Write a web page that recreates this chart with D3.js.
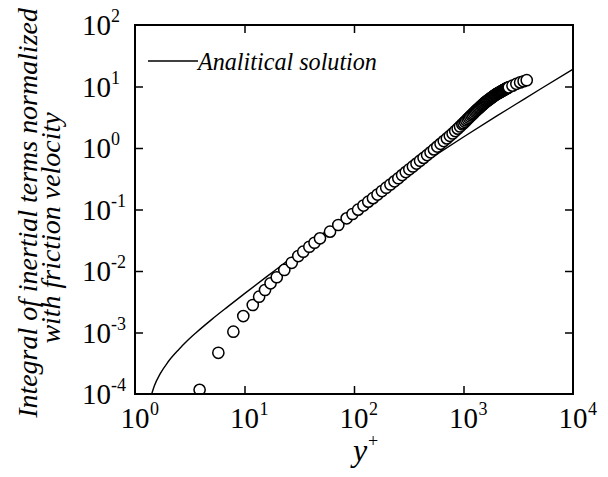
<!DOCTYPE html>
<html lang="en">
<head>
<meta charset="utf-8">
<script src="https://cdn.jsdelivr.net/npm/d3@7"></script>
<style>
    body { margin: 0; background: #fff; }
    svg text { font-family: "Liberation Serif", "DejaVu Serif", serif; fill: #000; }
</style>
</head>
<body>
<script>
    // analytical solution
    const lineX = [1.42, 1.5, 1.7, 2, 2.5, 3, 3.63, 5, 7, 10, 20, 50, 100, 200, 300, 500, 1000, 2000, 3000, 5000, 10000];
    const lineY = [1.0e-4, 1.35e-4, 2.14e-4, 3.31e-4, 5.25e-4, 7.33e-4, 1.0e-3, 1.62e-3, 2.61e-3, 4.28e-3, 1.10e-2,
        3.84e-2, 0.0964, 0.2275, 0.371, 0.678, 1.51, 3.29, 5.14, 9.02, 19.05];

    // circles (data)
    const dataX = [3.89, 5.77, 7.91, 9.75, 11.9, 13.6, 15.4, 17.3, 19.7, 23.1, 27.0, 31.0, 34.4, 39.1, 43.6, 48.9, 60.4,
        71.9, 85.7, 97, 109, 122, 135, 149, 164, 180, 197, 215, 234, 254, 275, 297, 320, 345, 372, 401, 432, 465,
        500, 537, 576, 617, 660, 705, 750, 795, 840, 885, 930, 975,
        1000, 1030, 1060, 1090, 1120, 1150, 1180, 1210, 1240, 1270, 1300, 1330, 1360, 1390, 1420, 1450, 1480, 1510,
        1540, 1570, 1600, 1630, 1660, 1690, 1720, 1750, 1780, 1810, 1840, 1870, 1900, 1930, 1960, 1990, 2020, 2050,
        2080, 2110, 2140, 2170, 2200, 2230, 2260, 2290, 2320, 2350, 2380, 2410, 2440, 2470, 2500, 2530, 2560, 2590,
        2800, 3040, 3290, 3540, 3780];
    const dataY = [1.17e-4, 4.68e-4, 1.03e-3, 1.85e-3, 2.80e-3, 3.82e-3, 4.91e-3, 6.31e-3, 7.91e-3, 1.04e-2, 1.36e-2,
        1.75e-2, 2.06e-2, 2.48e-2, 2.88e-2, 3.40e-2, 4.36e-2, 5.60e-2, 7.19e-2, 0.0845, 0.0993, 0.116, 0.134, 0.153,
        0.175, 0.1995, 0.226, 0.255, 0.287, 0.322, 0.363, 0.406, 0.4505, 0.501, 0.558, 0.621, 0.690, 0.766,
        0.850, 0.948, 1.054, 1.170, 1.296, 1.433, 1.575, 1.721, 1.887, 2.061, 2.239, 2.424,
        2.529, 2.666, 2.806, 2.949, 3.095, 3.243, 3.395, 3.551, 3.710, 3.868, 4.018, 4.173, 4.329, 4.487, 4.648,
        4.811, 4.977, 5.144, 5.314, 5.486, 5.641, 5.778, 5.917, 6.057, 6.197, 6.339, 6.479, 6.622, 6.765, 6.909,
        7.053, 7.198, 7.344, 7.489, 7.609, 7.722, 7.834, 7.947, 8.060, 8.173, 8.285, 8.398, 8.512, 8.625, 8.739,
        8.852, 8.965, 9.078, 9.192, 9.304, 9.417, 9.517, 9.607, 9.697,
        10.32, 11.03, 11.65, 12.17, 12.66];

    const xTickVals = [1, 10, 100, 1000, 10000];
    const xTickExp = ["0", "1", "2", "3", "4"];
    const yTickVals = [1e-4, 1e-3, 1e-2, 1e-1, 1, 10, 100];
    const yTickExp = ["-4", "-3", "-2", "-1", "0", "1", "2"];

    const W = 608, H = 477;
    const box = {left: 135, right: 573, top: 25, bottom: 394};
    const FONT = "'Liberation Serif', 'DejaVu Serif', serif";

    let svg = d3.select("body").append("svg")
        .attr("width", W).attr("height", H)
        .attr("font-family", FONT);

    let x = d3.scaleLog().domain([1, 1e4]).range([box.left, box.right]);
    let y = d3.scaleLog().domain([1e-4, 1e2]).range([box.bottom, box.top]);

    svg.append("clipPath").attr("id", "plotclip")
        .append("rect")
        .attr("x", box.left).attr("y", box.top)
        .attr("width", box.right - box.left).attr("height", box.bottom - box.top);

    let plot = svg.append("g").attr("clip-path", "url(#plotclip)");

    let lineData = lineX.map((v, i) => [v, lineY[i]]);
    plot.append("path")
        .datum(lineData)
        .attr("fill", "none")
        .attr("stroke", "#000")
        .attr("stroke-width", 1.4)
        .attr("d", d3.line()
            .x(d => x(d[0]))
            .y(d => y(d[1]))
            .curve(d3.curveMonotoneX));

    let points = dataX.map((v, i) => [v, dataY[i]]);
    plot.append("g").selectAll("circle")
        .data(points)
        .enter().append("circle")
        .attr("cx", d => x(d[0]))
        .attr("cy", d => y(d[1]))
        .attr("r", 5.6)
        .attr("fill", "#fff")
        .attr("stroke", "#000")
        .attr("stroke-width", 1.5);

    // inward ticks on all four sides
    function tickStyle(g) {
        g.select(".domain").remove();
        g.selectAll(".tick line").attr("stroke", "#000").attr("stroke-width", 1.5);
    }
    let innerX = xTickVals.slice(1, -1);
    let innerY = yTickVals.slice(1, -1);
    svg.append("g").attr("transform", "translate(0," + box.bottom + ")")
        .call(d3.axisBottom(x).tickValues(innerX).tickSize(-8).tickFormat(""))
        .call(tickStyle);
    svg.append("g").attr("transform", "translate(0," + box.top + ")")
        .call(d3.axisTop(x).tickValues(innerX).tickSize(-8).tickFormat(""))
        .call(tickStyle);
    svg.append("g").attr("transform", "translate(" + box.left + ",0)")
        .call(d3.axisLeft(y).tickValues(innerY).tickSize(-8).tickFormat(""))
        .call(tickStyle);
    svg.append("g").attr("transform", "translate(" + box.right + ",0)")
        .call(d3.axisRight(y).tickValues(innerY).tickSize(-8).tickFormat(""))
        .call(tickStyle);

    svg.append("rect")
        .attr("x", box.left).attr("y", box.top)
        .attr("width", box.right - box.left).attr("height", box.bottom - box.top)
        .attr("fill", "none").attr("stroke", "#000").attr("stroke-width", 2);

    // x tick labels: "10" centred on the tick, exponent to its right
    let xl = svg.append("g").selectAll("g").data(xTickVals).enter().append("g");
    xl.append("text")
        .attr("font-family", FONT).attr("font-size", 29)
        .attr("x", d => x(d) - 14.5).attr("y", box.bottom + 34)
        .text("10");
    xl.append("text")
        .attr("font-family", FONT).attr("font-size", 18)
        .attr("x", d => x(d) + 15).attr("y", box.bottom + 21)
        .text((d, i) => xTickExp[i]);

    // y tick labels
    let yl = svg.append("g").selectAll("g").data(yTickVals).enter().append("g");
    yl.append("text")
        .attr("font-family", FONT).attr("font-size", 29)
        .attr("x", 82).attr("y", d => y(d) + 10)
        .text("10");
    yl.append("text")
        .attr("font-family", FONT).attr("font-size", 18)
        .attr("x", 111).attr("y", d => y(d) - 3)
        .text((d, i) => yTickExp[i]);

    // legend
    svg.append("line")
        .attr("x1", 148).attr("x2", 198).attr("y1", 61).attr("y2", 61)
        .attr("stroke", "#000").attr("stroke-width", 1.4);
    let leg = svg.append("text")
        .attr("font-family", FONT).attr("font-style", "italic").attr("font-size", 23)
        .attr("x", 198).attr("y", 70)
        .text("Analitical solution");
    let lw = leg.node().getComputedTextLength();
    leg.attr("font-size", 23 * 179 / lw);

    // axis titles
    svg.append("text")
        .attr("font-family", FONT).attr("font-style", "italic").attr("font-size", 32)
        .attr("x", 353).attr("y", 461).text("y");
    svg.append("text")
        .attr("font-family", FONT).attr("font-size", 18)
        .attr("x", 368).attr("y", 447).text("+");

    let t1 = svg.append("text")
        .attr("font-family", FONT).attr("font-style", "italic").attr("font-size", 25)
        .attr("transform", "translate(37,213) rotate(-90)")
        .attr("text-anchor", "middle")
        .text("Integral of inertial terms normalized");
    let fs = 25 * 410 / t1.node().getComputedTextLength();
    t1.attr("font-size", fs);
    svg.append("text")
        .attr("font-family", FONT).attr("font-style", "italic").attr("font-size", fs)
        .attr("transform", "translate(60,228) rotate(-90)")
        .attr("text-anchor", "middle")
        .text("with friction velocity");
</script>
</body>
</html>
